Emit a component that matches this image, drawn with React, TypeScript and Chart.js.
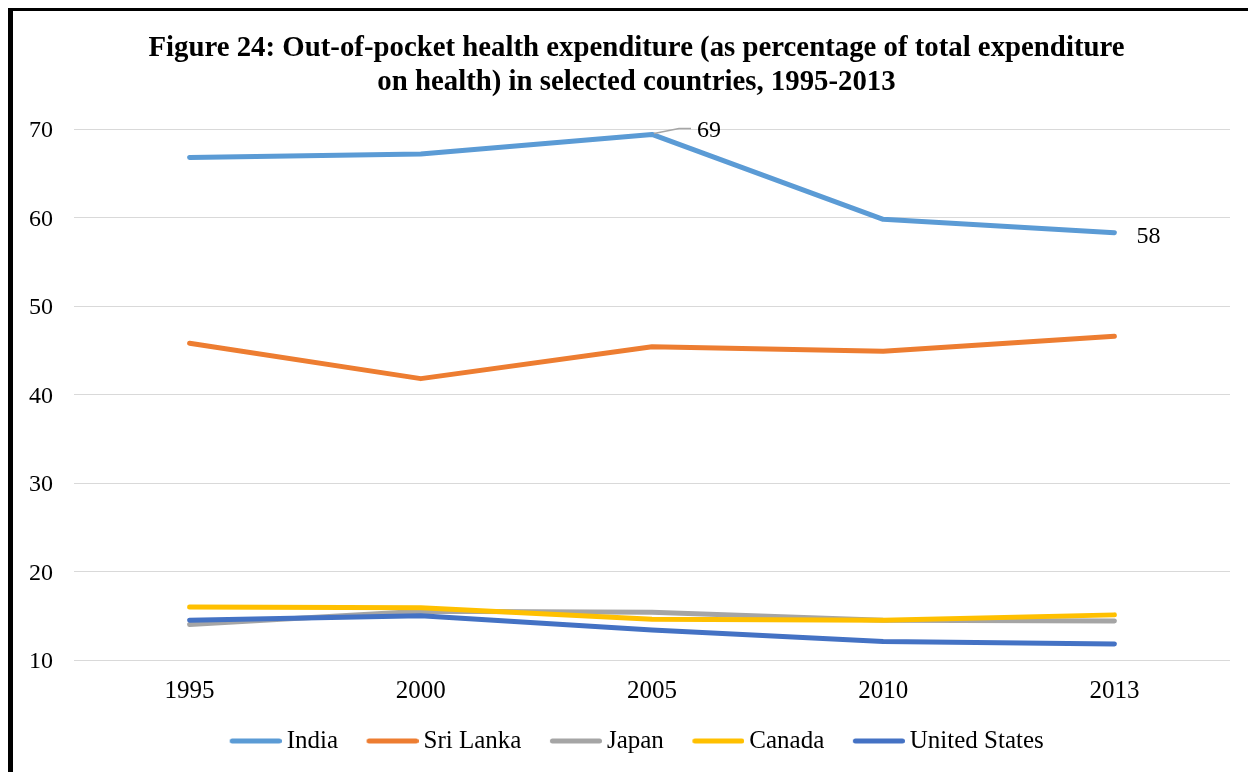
import React, { useEffect, useRef } from "react";
import { Chart, registerables } from "chart.js";

Chart.register(...registerables);

const years = ["1995", "2000", "2005", "2010", "2013"];
const india = [66.8, 67.2, 69.4, 59.8, 58.3];
const sriLanka = [45.8, 41.8, 45.4, 44.9, 46.6];
const japan = [14.0, 15.5, 15.4, 14.5, 14.4];
const canada = [16.0, 15.9, 14.6, 14.5, 15.1];
const unitedStates = [14.5, 15.0, 13.4, 12.1, 11.8];
const yTicks = [10, 20, 30, 40, 50, 60, 70];
const titleLines = [
  "Figure 24: Out-of-pocket health expenditure (as percentage of total expenditure",
  "on health) in selected countries, 1995-2013",
];

const FONT = "'Liberation Serif', 'Times New Roman', serif";

const labelPlugin = {
  id: "indiaLabels",
  afterDatasetsDraw(chart: any) {
    const meta = chart.getDatasetMeta(0);
    const ds = chart.data.datasets[0];
    const ctx = chart.ctx;
    ctx.save();
    ctx.font = `24px ${FONT}`;
    ctx.fillStyle = "#000";
    ctx.textBaseline = "middle";
    ctx.textAlign = "left";
    const p2 = meta.data[2];
    ctx.strokeStyle = "#A6A6A6";
    ctx.lineWidth = 1.5;
    ctx.beginPath();
    ctx.moveTo(p2.x + 2, p2.y - 1);
    ctx.lineTo(p2.x + 27, p2.y - 6);
    ctx.lineTo(p2.x + 39, p2.y - 6);
    ctx.stroke();
    ctx.fillText(String(Math.round(ds.data[2])), p2.x + 45, p2.y - 4);
    const p4 = meta.data[4];
    ctx.fillText(String(Math.round(ds.data[4])), p4.x + 22, p4.y + 4);
    ctx.restore();
  },
};

function legendLine(color: string) {
  const c = document.createElement("canvas");
  c.width = 60;
  c.height = 8;
  const g = c.getContext("2d")!;
  g.strokeStyle = color;
  g.lineWidth = 5;
  g.lineCap = "round";
  g.beginPath();
  g.moveTo(10.5, 4);
  g.lineTo(57.5, 4);
  g.stroke();
  return c;
}

export default function App() {
  const ref = useRef<HTMLCanvasElement>(null);
  useEffect(() => {
    if (!ref.current) return;
    const mk = (label: string, data: number[], color: string, order: number) => ({
      label,
      data,
      borderColor: color,
      backgroundColor: color,
      borderWidth: 5,
      borderCapStyle: "round" as const,
      borderJoinStyle: "round" as const,
      pointRadius: 0,
      pointStyle: legendLine(color) as any,
      tension: 0,
      order,
    });
    const chart = new Chart(ref.current, {
      type: "line",
      data: {
        labels: years,
        datasets: [
          mk("India", india, "#5B9BD5", 4),
          mk("Sri Lanka", sriLanka, "#ED7D31", 3),
          mk("Japan", japan, "#A5A5A5", 2),
          mk("Canada", canada, "#FFC000", 1),
          mk("United States", unitedStates, "#4472C4", 0),
        ],
      },
      options: {
        animation: false,
        responsive: true,
        maintainAspectRatio: false,
        layout: { padding: { left: 30, right: 18, top: 0, bottom: 8.5 } },
        plugins: {
          title: {
            display: true,
            text: titleLines,
            color: "#000",
            font: { family: FONT, size: 28.8, weight: "bold", lineHeight: 1.2 },
            padding: { top: 20, bottom: 29 },
          },
          legend: {
            position: "bottom",
            labels: {
              usePointStyle: true,
              pointStyleWidth: 45,
              boxHeight: 8,
              color: "#000",
              font: { family: FONT, size: 25 },
              padding: 28,
              sort: (a: any, b: any) => a.datasetIndex - b.datasetIndex,
            },
          },
          tooltip: { enabled: false },
        },
        scales: {
          x: {
            offset: true,
            grid: { display: false, drawTicks: false },
            border: { display: false },
            ticks: { color: "#000", font: { family: FONT, size: 25 }, padding: 16 },
            afterFit: (s: any) => { s.height = 40.5; },
          },
          y: {
            min: 10,
            max: 70,
            afterBuildTicks: (s: any) => { s.ticks = yTicks.map((v) => ({ value: v })); },
            grid: { color: "#D9D9D9", lineWidth: 1, drawTicks: false },
            border: { display: false },
            ticks: { color: "#000", font: { family: FONT, size: 24 }, mirror: true, padding: -45, labelOffset: 2 },
            afterFit: (s: any) => { s.width = 31; },
          },
        },
      },
      plugins: [labelPlugin],
    });
    return () => chart.destroy();
  }, []);
  return (
    <div
      style={{
        position: "absolute",
        left: 8,
        top: 8,
        width: 1240,
        height: 764,
        boxSizing: "border-box",
        borderLeft: "5px solid #000",
        borderTop: "3px solid #000",
        background: "#fff",
      }}
    >
      <div style={{ position: "relative", width: 1235, height: 761 }}>
        <canvas ref={ref} />
      </div>
    </div>
  );
}
